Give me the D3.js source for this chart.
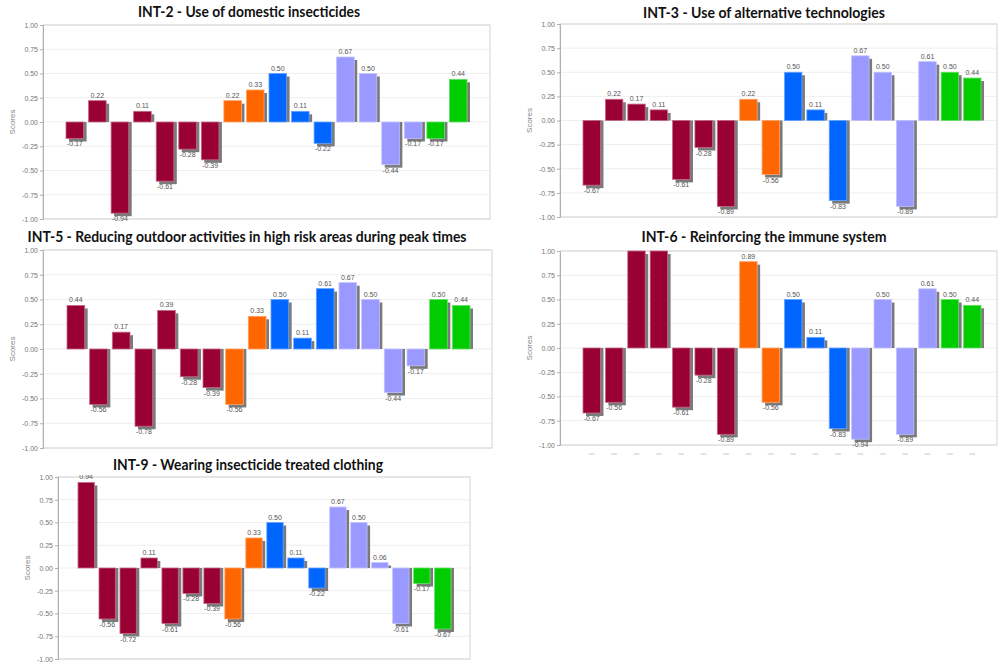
<!DOCTYPE html>
<html>
<head>
<meta charset="utf-8">
<script src="https://cdn.jsdelivr.net/npm/d3@7"></script>
<style>
  html, body { margin: 0; padding: 0; background: #fff; }
  svg { display: block; }
</style>
</head>
<body>
<svg id="chart" width="999" height="664"></svg>
<script>
// Eighteen assessed items, grouped into five colour families
const categories = ["C1","C2","C3","C4","C5","C6","C7","C8","C9","C10","C11","C12","C13","C14","C15","C16","C17","C18"];
const groupOf = ["g1","g1","g1","g1","g1","g1","g1","g2","g2","g3","g3","g3","g4","g4","g4","g4","g5","g5"];
const groupColors = { g1: "#990033", g2: "#ff6600", g3: "#0066ff", g4: "#9999ff", g5: "#00cc00" };
const groupEdge   = { g1: "#c46a88", g2: "#ffa366", g3: "#66a3ff", g4: "#c2c2ff", g5: "#66e066" };

// Scores per intervention
const int2 = [-0.17, 0.22, -0.94, 0.11, -0.61, -0.28, -0.39, 0.22, 0.33, 0.50, 0.11, -0.22, 0.67, 0.50, -0.44, -0.17, -0.17, 0.44];
const int3 = [-0.67, 0.22, 0.17, 0.11, -0.61, -0.28, -0.89, 0.22, -0.56, 0.50, 0.11, -0.83, 0.67, 0.50, -0.89, 0.61, 0.50, 0.44];
const int5 = [0.44, -0.56, 0.17, -0.78, 0.39, -0.28, -0.39, -0.56, 0.33, 0.50, 0.11, 0.61, 0.67, 0.50, -0.44, -0.17, 0.50, 0.44];
const int6 = [-0.67, -0.56, 1.00, 1.00, -0.61, -0.28, -0.89, 0.89, -0.56, 0.50, 0.11, -0.83, -0.94, 0.50, -0.89, 0.61, 0.50, 0.44];
const int9 = [0.94, -0.56, -0.72, 0.11, -0.61, -0.28, -0.39, -0.56, 0.33, 0.50, 0.11, -0.22, 0.67, 0.50, 0.06, -0.61, -0.17, -0.67];

const titles = [
  "INT-2 - Use of domestic insecticides",
  "INT-3 - Use of alternative technologies",
  "INT-5 - Reducing outdoor activities in high risk areas during peak times",
  "INT-6 - Reinforcing the immune system",
  "INT-9 - Wearing insecticide treated clothing"
];
const yTicks = [1.00, 0.75, 0.50, 0.25, 0.00, -0.25, -0.50, -0.75, -1.00];
const yLabel = "Scores";

// Panel frames: plot box, bar span, title placement
const panels = [
  { values: int2, title: titles[0], box: [43, 25, 490, 219],  bars: [66, 467],  tx: 249, ty: 17,  tw: 222 },
  { values: int3, title: titles[1], box: [560, 24, 997, 217], bars: [583, 981], tx: 764, ty: 18,  tw: 242 },
  { values: int5, title: titles[2], box: [43, 250, 492, 448], bars: [67, 470],  tx: 247, ty: 242, tw: 439 },
  { values: int6, title: titles[3], box: [560, 251, 997, 445], bars: [583, 981], tx: 764, ty: 242, tw: 245, ticksBelow: true },
  { values: int9, title: titles[4], box: [58, 477, 470, 659], bars: [78, 451],  tx: 248, ty: 470, tw: 270 }
];

const svg = d3.select("#chart");
// plain hyphen for negatives
const fmt = d3.formatLocale({ decimal: ".", thousands: ",", grouping: [3], currency: ["", ""], minus: "-" }).format(".2f");

panels.forEach((p, pi) => {
  const [x0, y0, x1, y1] = p.box;
  const g = svg.append("g");

  const y = d3.scaleLinear().domain([-1, 1]).range([y1, y0]);
  const x = d3.scaleBand().domain(categories).range(p.bars).paddingInner(0.22).paddingOuter(0);

  // gridlines
  g.append("g").selectAll("line").data(yTicks).join("line")
    .attr("x1", x0).attr("x2", x1)
    .attr("y1", d => y(d)).attr("y2", d => y(d))
    .attr("stroke", "#eeeeee").attr("stroke-width", 1);

  // plot frame
  g.append("rect")
    .attr("x", x0).attr("y", y0).attr("width", x1 - x0).attr("height", y1 - y0)
    .attr("fill", "none").attr("stroke", "#d4d4d4");

  // y axis
  const axis = g.append("g")
    .attr("transform", `translate(${x0},0)`)
    .call(d3.axisLeft(y).tickValues(yTicks).tickFormat(fmt).tickSize(3).tickPadding(2));
  axis.select(".domain").attr("stroke", "#b0b0b0");
  axis.selectAll(".tick line").attr("stroke", "#b0b0b0");
  axis.selectAll(".tick text")
    .attr("fill", "#777").attr("font-size", "7px").attr("font-family", "'Liberation Sans', Arial, sans-serif");

  // axis title
  g.append("text")
    .attr("transform", `translate(${x0 - 28},${(y0 + y1) / 2}) rotate(-90)`)
    .attr("text-anchor", "middle")
    .attr("font-family", "'Liberation Sans', Arial, sans-serif")
    .attr("font-size", "8px").attr("fill", "#888")
    .text(yLabel);

  const rows = p.values.map((v, i) => ({ cat: categories[i], grp: groupOf[i], v }));

  // drop shadows: offset to the lower right, resting on the zero line for positive bars
  g.append("g").selectAll("rect").data(rows).join("rect")
    .attr("x", d => x(d.cat) + 3)
    .attr("y", d => d.v >= 0 ? y(d.v) + 3 : y(0))
    .attr("width", x.bandwidth())
    .attr("height", d => d.v >= 0 ? Math.max(0, y(0) - y(d.v) - 3) : y(d.v) - y(0) + 3)
    .attr("fill", "#7a7a7a");

  // bars
  g.append("g").selectAll("rect").data(rows).join("rect")
    .attr("x", d => x(d.cat))
    .attr("y", d => Math.min(y(d.v), y(0)))
    .attr("width", x.bandwidth())
    .attr("height", d => Math.abs(y(d.v) - y(0)))
    .attr("fill", d => groupColors[d.grp])
    .attr("stroke", d => groupEdge[d.grp]).attr("stroke-width", 0.8);

  // value labels; those that would sit entirely above the frame are left out,
  // the rest are clipped near the frame
  const clipId = "clip" + pi;
  svg.append("clipPath").attr("id", clipId).append("rect")
    .attr("x", x0 - 10).attr("y", y0 - 2).attr("width", x1 - x0 + 20).attr("height", y1 - y0 + 6);
  const labelY = d => d.v >= 0 ? y(d.v) - 3 : y(d.v) + 8;
  g.append("g").attr("clip-path", `url(#${clipId})`)
    .selectAll("text").data(rows.filter(d => labelY(d) > y0)).join("text")
    .attr("x", d => x(d.cat) + x.bandwidth() / 2)
    .attr("y", labelY)
    .attr("text-anchor", "middle")
    .attr("font-family", "'Liberation Sans', Arial, sans-serif")
    .attr("font-size", "7px").attr("fill", "#555")
    .text(d => fmt(d.v));

  // small category marks under the plot
  if (p.ticksBelow) {
    g.append("g").selectAll("line").data(categories).join("line")
      .attr("x1", d => x(d) + x.bandwidth() / 2 - 3).attr("x2", d => x(d) + x.bandwidth() / 2 + 3)
      .attr("y1", y1 + 9).attr("y2", y1 + 9)
      .attr("stroke", "#c8c8c8").attr("stroke-width", 1);
  }

  // title
  g.append("text")
    .attr("x", p.tx).attr("y", p.ty)
    .attr("text-anchor", "middle")
    .attr("font-family", "Lato, 'Open Sans', sans-serif")
    .attr("font-weight", 700).attr("font-size", "15px").attr("fill", "#111")
    .attr("textLength", p.tw).attr("lengthAdjust", "spacingAndGlyphs")
    .text(p.title);
});
</script>
</body>
</html>
